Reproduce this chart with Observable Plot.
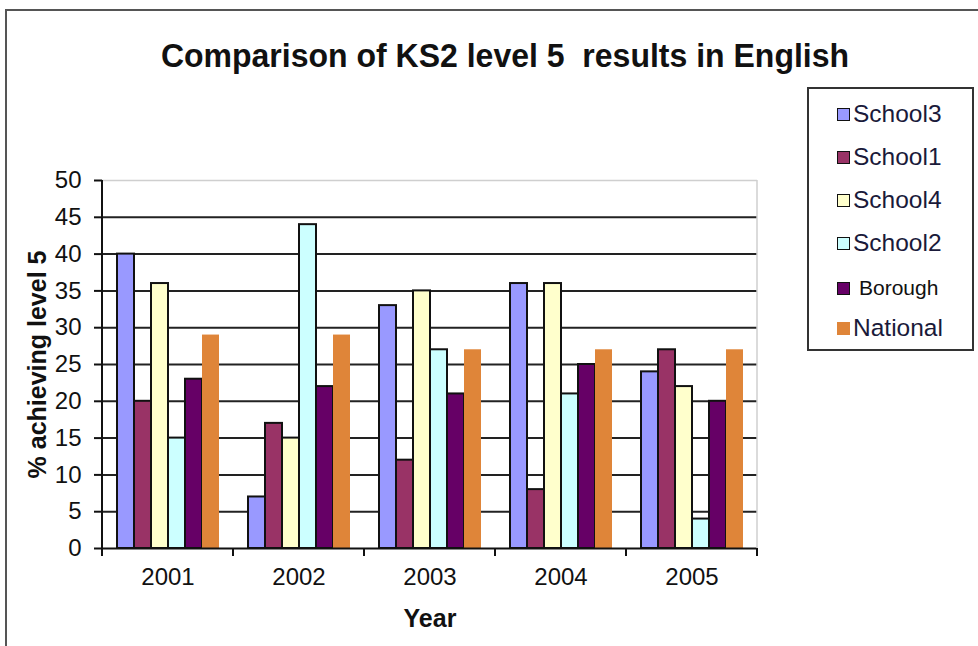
<!DOCTYPE html>
<html>
<head>
<meta charset="utf-8">
<script src="https://cdn.jsdelivr.net/npm/d3@7"></script>
<script src="https://cdn.jsdelivr.net/npm/@observablehq/plot@0.6"></script>
<style>
  html, body { margin: 0; padding: 0; background: #fff; }
  #wrap { position: relative; width: 978px; height: 646px; overflow: hidden; background: #fff;
          font-family: "Liberation Sans", Arial, sans-serif; color: #111; }
  #frameTop { position: absolute; left: 5px; top: 9px; width: 980px; height: 0; border-top: 2px solid #555; }
  #frameLeft { position: absolute; left: 5px; top: 9px; width: 0; height: 640px; border-left: 2px solid #555; }
  #title { position: absolute; left: 55px; width: 900px; top: 37px; text-align: center;
           font-weight: bold; font-size: 32px; line-height: 36px; white-space: pre; transform: scaleY(1.05); }
  #chart { position: absolute; left: 0; top: 160px; }
  #xlabel { position: absolute; left: 330px; width: 200px; top: 603px; text-align: center;
            font-weight: bold; font-size: 25px; line-height: 30px; }
  #legend { position: absolute; left: 807px; top: 87px; width: 163px; height: 260px;
            border: 2px solid #333; background: #fff; }
  .item { position: absolute; left: 28px; height: 30px; display: flex; align-items: center;
          font-size: 24.5px; color: #1a1a3a; }
  .sw { width: 11px; height: 11px; border: 1.5px solid #111; margin-right: 3px; }
  #chart svg [aria-label="y-axis label"] text { font-weight: bold; font-size: 25px; }
</style>
</head>
<body>
<div id="wrap">
  <div id="frameTop"></div>
  <div id="frameLeft"></div>
  <div id="title">Comparison of KS2 level 5  results in English</div>
  <div id="chart"></div>
  <div id="xlabel">Year</div>
  <div id="legend"></div>
</div>
<script>
// ---- data ----
const years = ["2001", "2002", "2003", "2004", "2005"];
const series = ["School3", "School1", "School4", "School2", "Borough", "National"];
const school3 = [40, 7, 33, 36, 24];
const school1 = [20, 17, 12, 8, 27];
const school4 = [36, 15, 35, 36, 22];
const school2 = [15, 44, 27, 21, 4];
const borough = [23, 22, 21, 25, 20];
const national = [29, 29, 27, 27, 27];
const yTicks = [0, 5, 10, 15, 20, 25, 30, 35, 40, 45, 50];
const colors = ["#9999FF", "#993366", "#FFFFCC", "#CCFFFF", "#660066", "#DF8539"];

const seriesValues = [school3, school1, school4, school2, borough, national];
const rows = years.flatMap((yr, i) =>
  series.map((s, j) => ({ year: yr, series: s, value: seriesValues[j][i] })));

const plot = Plot.plot({
  width: 780,
  height: 440,
  marginTop: 20,
  marginBottom: 52,
  marginLeft: 101,
  marginRight: 22,
  style: { fontFamily: "Liberation Sans, Arial, sans-serif", fontSize: "24px", color: "#111", background: "transparent" },
  fx: { domain: years, padding: 0, label: null, axis: "bottom", tickSize: 0, tickPadding: 19 },
  x: { domain: series, paddingInner: 0, paddingOuter: 0.78, axis: null },
  y: { domain: [0, 50], axis: null },
  color: { domain: series, range: colors },
  marks: [
    Plot.ruleY(yTicks.filter(t => t > 0 && t < 50), { stroke: "#222", strokeWidth: 2 }),
    Plot.ruleY([50], { stroke: "#cfcfcf", strokeWidth: 1.5 }),
    Plot.barY(rows.filter(d => d.series !== "National"),
      { fx: "year", x: "series", y: "value", fill: "series", stroke: "#111", strokeWidth: 2 }),
    Plot.barY(rows.filter(d => d.series === "National"),
      { fx: "year", x: "series", y: "value", fill: "series" }),
    Plot.ruleY([0], { stroke: "#111", strokeWidth: 2 }),
    Plot.axisY({ ticks: yTicks, tickSize: 8, tickPadding: 13, strokeWidth: 2,
      label: "% achieving level 5", labelAnchor: "center", labelOffset: 74, labelArrow: "none" })
  ]
});

// category boundary ticks, y axis line, right border from Plot's scales
const fx = plot.scale("fx");
const ys = plot.scale("y");
const y0 = ys.apply(0), y50 = ys.apply(50);
const bounds = years.map(v => fx.apply(v)).concat([fx.apply(years[years.length - 1]) + fx.bandwidth]);
const g = d3.select(plot).append("g");
g.append("line").attr("x1", bounds[bounds.length - 1]).attr("x2", bounds[bounds.length - 1])
  .attr("y1", y50).attr("y2", y0).attr("stroke", "#cfcfcf").attr("stroke-width", 1.5);
g.selectAll("line.b").data(bounds).join("line").attr("class", "b")
  .attr("x1", d => d).attr("x2", d => d).attr("y1", y0).attr("y2", y0 + 8)
  .attr("stroke", "#111").attr("stroke-width", 2);
g.append("line").attr("x1", bounds[0]).attr("x2", bounds[0])
  .attr("y1", y50).attr("y2", y0 + 8).attr("stroke", "#111").attr("stroke-width", 2);

document.getElementById("chart").appendChild(plot);

// legend
const legend = d3.select("#legend");
const itemTops = [10, 53, 96, 139, 184, 224];
series.forEach((s, i) => {
  const it = legend.append("div").attr("class", "item").style("top", itemTops[i] + "px");
  const sw = it.append("div").attr("class", "sw").style("background", colors[i]);
  if (s === "National") sw.style("border-color", colors[i]);
  const t = it.append("span").text(s);
  if (s === "Borough") t.style("font-size", "21px").style("color", "#111").style("margin-left", "6px");
});
</script>
</body>
</html>
